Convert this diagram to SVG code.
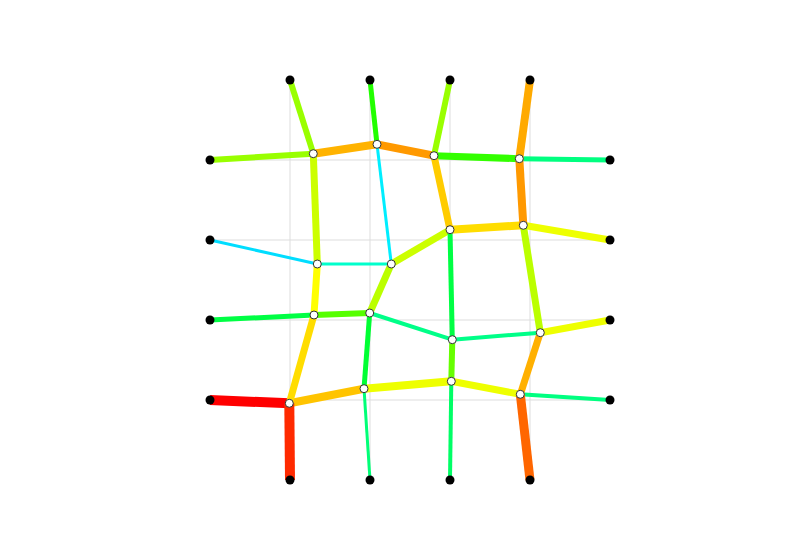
<svg xmlns="http://www.w3.org/2000/svg" width="800" height="560" viewBox="0 0 800 560">
<style>
.grid line{stroke:#dddddd;stroke-width:1}
.edges line{stroke-linecap:butt}
.fixed{fill:#000}
.free{fill:#fff;stroke:#333;stroke-width:1}
</style>
<rect width="800" height="560" fill="#fff"/>
<g class="grid">
<line x1="290" y1="80" x2="290" y2="480"/>
<line x1="370" y1="80" x2="370" y2="480"/>
<line x1="450" y1="80" x2="450" y2="480"/>
<line x1="530" y1="80" x2="530" y2="480"/>
<line x1="210" y1="160" x2="610" y2="160"/>
<line x1="210" y1="240" x2="610" y2="240"/>
<line x1="210" y1="320" x2="610" y2="320"/>
<line x1="210" y1="400" x2="610" y2="400"/>
</g>
<g class="edges" id="connectors">
<!-- row 1 -->
<line x1="210" y1="160" x2="313.3" y2="153.7" stroke="#99ff00" stroke-width="6"/>
<line x1="313.3" y1="153.7" x2="377" y2="144.3" stroke="#ffb300" stroke-width="8"/>
<line x1="377" y1="144.3" x2="434" y2="155.7" stroke="#ff9900" stroke-width="8"/>
<line x1="434" y1="155.7" x2="519.3" y2="158.7" stroke="#33ff00" stroke-width="7"/>
<line x1="519.3" y1="158.7" x2="610" y2="160" stroke="#00ff80" stroke-width="5"/>
<!-- row 2 -->
<line x1="210" y1="240" x2="317.3" y2="264" stroke="#00ddff" stroke-width="3"/>
<line x1="317.3" y1="264" x2="391.3" y2="264" stroke="#00ffcc" stroke-width="3"/>
<line x1="391.3" y1="264" x2="450" y2="229.7" stroke="#ccff00" stroke-width="7"/>
<line x1="450" y1="229.7" x2="523.3" y2="225.3" stroke="#ffdd00" stroke-width="8"/>
<line x1="523.3" y1="225.3" x2="610" y2="240" stroke="#eeff00" stroke-width="7"/>
<!-- row 3 -->
<line x1="210" y1="320" x2="314" y2="315" stroke="#00ff44" stroke-width="5"/>
<line x1="314" y1="315" x2="369.7" y2="313" stroke="#55ff00" stroke-width="6"/>
<line x1="369.7" y1="313" x2="452.3" y2="339.7" stroke="#00ff88" stroke-width="4"/>
<line x1="452.3" y1="339.7" x2="540.3" y2="332.7" stroke="#00ff88" stroke-width="4"/>
<line x1="540.3" y1="332.7" x2="610" y2="320" stroke="#eeff00" stroke-width="7"/>
<!-- row 4 -->
<line x1="210" y1="400" x2="289.3" y2="403.3" stroke="#ff0000" stroke-width="10"/>
<line x1="289.3" y1="403.3" x2="364" y2="388.7" stroke="#ffc400" stroke-width="8"/>
<line x1="364" y1="388.7" x2="451.3" y2="381.3" stroke="#eeff00" stroke-width="8"/>
<line x1="451.3" y1="381.3" x2="520.3" y2="394.3" stroke="#eeff00" stroke-width="7"/>
<line x1="520.3" y1="394.3" x2="610" y2="400" stroke="#00ff80" stroke-width="4"/>
<!-- col 1 -->
<line x1="290" y1="80" x2="313.3" y2="153.7" stroke="#99ff00" stroke-width="6"/>
<line x1="313.3" y1="153.7" x2="317.3" y2="264" stroke="#ccff00" stroke-width="7"/>
<line x1="317.3" y1="264" x2="314" y2="315" stroke="#ffff00" stroke-width="7"/>
<line x1="314" y1="315" x2="289.3" y2="403.3" stroke="#ffdd00" stroke-width="7"/>
<line x1="289.3" y1="403.3" x2="290" y2="480" stroke="#ff2a00" stroke-width="10"/>
<!-- col 2 -->
<line x1="370" y1="80" x2="377" y2="144.3" stroke="#22ff00" stroke-width="5"/>
<line x1="377" y1="144.3" x2="391.3" y2="264" stroke="#00eeff" stroke-width="3"/>
<line x1="391.3" y1="264" x2="369.7" y2="313" stroke="#bbff00" stroke-width="7"/>
<line x1="369.7" y1="313" x2="364" y2="388.7" stroke="#00ff33" stroke-width="5"/>
<line x1="364" y1="388.7" x2="370" y2="480" stroke="#00ff77" stroke-width="3"/>
<!-- col 3 -->
<line x1="450" y1="80" x2="434" y2="155.7" stroke="#99ff00" stroke-width="6"/>
<line x1="434" y1="155.7" x2="450" y2="229.7" stroke="#ffcc00" stroke-width="7"/>
<line x1="450" y1="229.7" x2="452.3" y2="339.7" stroke="#00ff44" stroke-width="5"/>
<line x1="452.3" y1="339.7" x2="451.3" y2="381.3" stroke="#66ff00" stroke-width="6"/>
<line x1="451.3" y1="381.3" x2="450" y2="480" stroke="#00ff66" stroke-width="4"/>
<!-- col 4 -->
<line x1="530" y1="80" x2="519.3" y2="158.7" stroke="#ffaa00" stroke-width="8"/>
<line x1="519.3" y1="158.7" x2="523.3" y2="225.3" stroke="#ff9900" stroke-width="8"/>
<line x1="523.3" y1="225.3" x2="540.3" y2="332.7" stroke="#bbff00" stroke-width="7"/>
<line x1="540.3" y1="332.7" x2="520.3" y2="394.3" stroke="#ffb000" stroke-width="7"/>
<line x1="520.3" y1="394.3" x2="530" y2="480" stroke="#ff6600" stroke-width="9"/>
</g>
<g id="fixed-nodes">
<circle id="t1" class="fixed" cx="290" cy="80" r="4.5"/>
<circle id="t2" class="fixed" cx="370" cy="80" r="4.5"/>
<circle id="t3" class="fixed" cx="450" cy="80" r="4.5"/>
<circle id="t4" class="fixed" cx="530" cy="80" r="4.5"/>
<circle id="b1" class="fixed" cx="290" cy="480" r="4.5"/>
<circle id="b2" class="fixed" cx="370" cy="480" r="4.5"/>
<circle id="b3" class="fixed" cx="450" cy="480" r="4.5"/>
<circle id="b4" class="fixed" cx="530" cy="480" r="4.5"/>
<circle id="l1" class="fixed" cx="210" cy="160" r="4.5"/>
<circle id="l2" class="fixed" cx="210" cy="240" r="4.5"/>
<circle id="l3" class="fixed" cx="210" cy="320" r="4.5"/>
<circle id="l4" class="fixed" cx="210" cy="400" r="4.5"/>
<circle id="r1" class="fixed" cx="610" cy="160" r="4.5"/>
<circle id="r2" class="fixed" cx="610" cy="240" r="4.5"/>
<circle id="r3" class="fixed" cx="610" cy="320" r="4.5"/>
<circle id="r4" class="fixed" cx="610" cy="400" r="4.5"/>
</g>
<g id="free-nodes">
<circle id="n11" class="free" cx="313.3" cy="153.7" r="4"/>
<circle id="n12" class="free" cx="377" cy="144.3" r="4"/>
<circle id="n13" class="free" cx="434" cy="155.7" r="4"/>
<circle id="n14" class="free" cx="519.3" cy="158.7" r="4"/>
<circle id="n21" class="free" cx="317.3" cy="264" r="4"/>
<circle id="n22" class="free" cx="391.3" cy="264" r="4"/>
<circle id="n23" class="free" cx="450" cy="229.7" r="4"/>
<circle id="n24" class="free" cx="523.3" cy="225.3" r="4"/>
<circle id="n31" class="free" cx="314" cy="315" r="4"/>
<circle id="n32" class="free" cx="369.7" cy="313" r="4"/>
<circle id="n33" class="free" cx="452.3" cy="339.7" r="4"/>
<circle id="n34" class="free" cx="540.3" cy="332.7" r="4"/>
<circle id="n41" class="free" cx="289.3" cy="403.3" r="4"/>
<circle id="n42" class="free" cx="364" cy="388.7" r="4"/>
<circle id="n43" class="free" cx="451.3" cy="381.3" r="4"/>
<circle id="n44" class="free" cx="520.3" cy="394.3" r="4"/>
</g>
</svg>
